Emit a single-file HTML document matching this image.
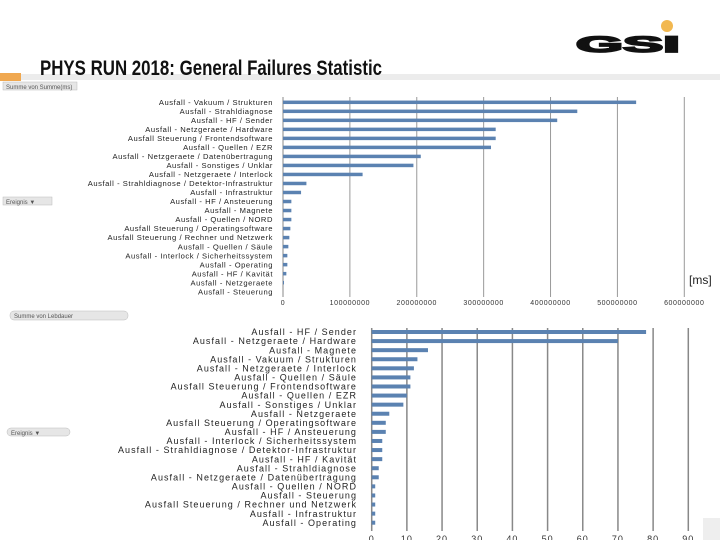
<!DOCTYPE html>
<html><head><meta charset="utf-8"><style>
body{margin:0;background:#fff;}
svg{display:block;font-family:"Liberation Sans",sans-serif;}
</style></head><body>
<svg id="s" width="720" height="540" viewBox="0 0 720 540" xmlns="http://www.w3.org/2000/svg">
<rect x="0" y="74" width="720" height="6" fill="#ececec"/>
<rect x="0" y="73" width="21" height="8" fill="#f0a850"/>
<text x="40" y="75" font-size="21" font-weight="bold" fill="#111" textLength="342" lengthAdjust="spacingAndGlyphs">PHYS RUN 2018: General Failures Statistic</text>
<g>
<text x="576" y="52" font-size="20" font-weight="bold" fill="#111" textLength="104" lengthAdjust="spacingAndGlyphs" stroke="#111" stroke-width="1.5" transform="translate(0,-6) scale(1,1.12)">GSI</text>
<circle cx="667" cy="26" r="6" fill="#f2b850"/>
</g>
<g>
<rect x="3" y="82" width="74" height="8" fill="#e6e6e6" stroke="#bbb" stroke-width="0.5"/>
<text x="6" y="89" font-size="6" fill="#555">Summe von Summe(ms)</text>
<rect x="3" y="197" width="49" height="8" fill="#e6e6e6" stroke="#bbb" stroke-width="0.5"/>
<text x="6" y="204" font-size="6" fill="#555">Ereignis ▼</text>
<rect x="10" y="311" width="118" height="9" rx="4" fill="#e6e6e6" stroke="#bbb" stroke-width="0.5"/>
<text x="14" y="318" font-size="6" fill="#555">Summe von Lebdauer</text>
<rect x="7" y="428" width="63" height="8" rx="4" fill="#e6e6e6" stroke="#bbb" stroke-width="0.5"/>
<text x="11" y="435" font-size="6" fill="#555">Ereignis ▼</text>
</g>
<rect x="703" y="518" width="17" height="22" fill="#eeeeee"/>
<text x="689" y="284" font-size="12" fill="#222">[ms]</text>
<g id="top"></g>
<g id="bot"></g>
</svg>
<script>
const topCategories=["Ausfall - Vakuum / Strukturen","Ausfall - Strahldiagnose","Ausfall - HF / Sender","Ausfall - Netzgeraete / Hardware","Ausfall Steuerung / Frontendsoftware","Ausfall - Quellen / EZR","Ausfall - Netzgeraete / Datenübertragung","Ausfall - Sonstiges / Unklar","Ausfall - Netzgeraete / Interlock","Ausfall - Strahldiagnose / Detektor-Infrastruktur","Ausfall - Infrastruktur","Ausfall - HF / Ansteuerung","Ausfall - Magnete","Ausfall - Quellen / NORD","Ausfall Steuerung / Operatingsoftware","Ausfall Steuerung / Rechner und Netzwerk","Ausfall - Quellen / Säule","Ausfall - Interlock / Sicherheitssystem","Ausfall - Operating","Ausfall - HF / Kavität","Ausfall - Netzgeraete","Ausfall - Steuerung"];
const topValues=[528e6,440e6,410e6,318e6,318e6,311e6,206e6,195e6,119e6,35e6,27e6,12.5e6,12.5e6,12.5e6,11e6,9.5e6,8e6,6.5e6,6.5e6,5e6,1.5e6,0];
const topTicks=["0","100000000","200000000","300000000","400000000","500000000","600000000"];
const topTickValues=[0,1e8,2e8,3e8,4e8,5e8,6e8];
const botCategories=["Ausfall - HF / Sender","Ausfall - Netzgeraete / Hardware","Ausfall - Magnete","Ausfall - Vakuum / Strukturen","Ausfall - Netzgeraete / Interlock","Ausfall - Quellen / Säule","Ausfall Steuerung / Frontendsoftware","Ausfall - Quellen / EZR","Ausfall - Sonstiges / Unklar","Ausfall - Netzgeraete","Ausfall Steuerung / Operatingsoftware","Ausfall - HF / Ansteuerung","Ausfall - Interlock / Sicherheitssystem","Ausfall - Strahldiagnose / Detektor-Infrastruktur","Ausfall - HF / Kavität","Ausfall - Strahldiagnose","Ausfall - Netzgeraete / Datenübertragung","Ausfall - Quellen / NORD","Ausfall - Steuerung","Ausfall Steuerung / Rechner und Netzwerk","Ausfall - Infrastruktur","Ausfall - Operating"];
const botValues=[78,70,16,13,12,11,11,10,9,5,4,4,3,3,3,2,2,1,1,1,1,1];
const botTicks=["0","10","20","30","40","50","60","70","80","90"];
const botTickValues=[0,10,20,30,40,50,60,70,80,90];
const NS="http://www.w3.org/2000/svg";
function mk(p,t,a){const e=document.createElementNS(NS,t);for(const k in a)e.setAttribute(k,a[k]);p.appendChild(e);return e;}
function draw(g,cats,vals,ticks,tickVals,o){
  const x=v=>o.x0+(v-o.vmin)/(o.vmax-o.vmin)*(o.x1-o.x0);
  const y=i=>o.y0+i*(o.y1-o.y0)/(cats.length-1);
  tickVals.forEach((v,i)=>{
    const l=mk(g,'line',{x1:x(v),x2:x(v),y1:o.gt,y2:o.gb,stroke:o.gc,'stroke-width':o.gw});
    
    
    const t=mk(g,'text',{x:x(v),y:o.ty,'font-size':o.tf,'text-anchor':'middle',fill:'#333','letter-spacing':o.tls});
    t.textContent=ticks[i];
    
    
  });
  const ax=mk(g,'line',{x1:o.x0,x2:o.x0,y1:o.gt,y2:o.gb,stroke:'#888','stroke-width':1});
  
  
  cats.forEach((c,i)=>{
    const t=mk(g,'text',{x:o.lx,y:y(i)+o.lf*0.35,'font-size':o.lf,'text-anchor':'end',fill:'#222','letter-spacing':o.ls});
    t.textContent=c;
    
    
    const w=x(vals[i])-x(0);
    const b=mk(g,'rect',{x:x(0),y:y(i)-o.bh/2,width:Math.max(w,0),height:o.bh,fill:'#5b82b1'});
    
    
  });
}
draw(document.getElementById('top'),topCategories,topValues,topTicks,topTickValues,
 {x0:283,x1:684.3,vmin:0,vmax:6e8,y0:102.3,y1:291.7,gt:97,gb:297,ty:305,tf:7,tls:0.6,gw:1,gc:'#999',lx:273,lf:7.6,ls:0.55,bh:3.5});
draw(document.getElementById('bot'),botCategories,botValues,botTicks,botTickValues,
 {x0:371.7,x1:688.3,vmin:0,vmax:90,y0:332,y1:522.7,gt:328,gb:531,ty:542,tf:9,tls:1,gw:1.5,gc:'#888',lx:357,lf:9,ls:1.05,bh:4});
</script>
</body></html>
